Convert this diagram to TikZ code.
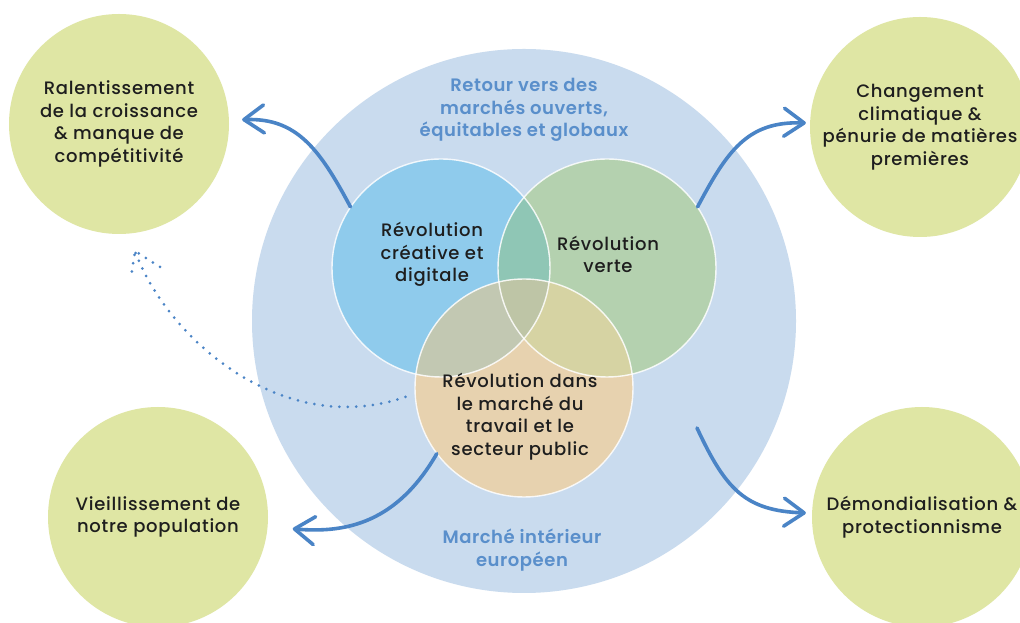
\documentclass[tikz,border=0pt]{standalone}
\usepackage{fontspec}
\setmainfont{Poppins Medium}[LetterSpace=4]
\newfontfamily\semibf{Poppins SemiBold}[LetterSpace=3]
\usetikzlibrary{arrows.meta}
\definecolor{bigc}{HTML}{C9DBEE}
\definecolor{vblue}{HTML}{8FCBEC}
\definecolor{vgreen}{HTML}{B4D1AF}
\definecolor{vorange}{HTML}{E7D2AF}
\definecolor{vbg}{HTML}{8FC6B5}
\definecolor{vbo}{HTML}{C2C8B2}
\definecolor{vgo}{HTML}{D6D3A3}
\definecolor{vbgo}{HTML}{BEC5A6}
\definecolor{outg}{HTML}{DFE6A4}
\definecolor{arrc}{HTML}{4A84C6}
\definecolor{bluetxt}{HTML}{5A8FCB}
\definecolor{darktxt}{HTML}{1E1E1E}
\begin{document}
\begin{tikzpicture}[x=1pt,y=1pt,
  txtfont/.style={font=\fontsize{18pt}{22.5pt}\selectfont},
  outcirc/.style={circle,fill=outg,minimum size=220pt,inner sep=0pt,align=center,text=darktxt,txtfont},
  vennc/.style={circle,minimum size=218pt,inner sep=0pt},
  lbl/.style={align=center,text=darktxt,txtfont,inner sep=0pt},
  bluelbl/.style={align=center,text=bluetxt,font=\semibf\fontsize{18pt}{22.5pt}\selectfont,inner sep=0pt},
  vline/.style={draw=white,line width=1.4pt,draw opacity=0.85},
  arr/.style={draw=arrc,line width=3.6pt,line cap=round,-{Straight Barb[length=20pt,width=28pt,round]}},
  dotarr/.style={draw=arrc,line width=3pt,line cap=round,dash pattern=on 0pt off 8.4pt}
]
\clip (0,0) rectangle (1020,623);
\fill[white] (0,0) rectangle (1020,623);
% big circle
\node[circle,fill=bigc,minimum size=544pt,inner sep=0pt] (big) at (524,302) {};
% Venn
\coordinate (cb) at (441,355);
\coordinate (cg) at (607,355);
\coordinate (co) at (524,235);
\fill[vblue] (cb) circle (109);
\fill[vgreen] (cg) circle (109);
\fill[vorange] (co) circle (109);
\begin{scope}
  \clip (cb) circle (109);
  \fill[vbg] (cg) circle (109);
  \fill[vbo] (co) circle (109);
\end{scope}
\begin{scope}
  \clip (cg) circle (109);
  \fill[vgo] (co) circle (109);
\end{scope}
\begin{scope}
  \clip (cb) circle (109);
  \clip (cg) circle (109);
  \fill[vbgo] (co) circle (109);
\end{scope}
\draw[vline] (cb) circle (109);
\draw[vline] (cg) circle (109);
\draw[vline] (co) circle (109);
\node[vennc] (blue) at (cb) {};
\node[vennc] (green) at (cg) {};
\node[vennc] (orange) at (co) {};
% outer circles
\node[outcirc] (tl) at (119,499) {Ralentissement\\de la croissance\\\& manque de\\compétitivité};
\node[outcirc] (tr) at (920,496) {Changement\\climatique \&\\pénurie de matières\\premières};
\node[outcirc] (bl) at (158,106) {Vieillissement de\\notre population};
\node[outcirc] (br) at (922,106) {Démondialisation \&\\protectionnisme};
% labels
\node[bluelbl] (ttop) at (524,513) {Retour vers des\\marchés ouverts,\\équitables et globaux};
\node[bluelbl] (tbot) at (522,73) {Marché intérieur\\européen};
\node[lbl] (tblue) at (432,368.5) {Révolution\\créative et\\digitale};
\node[lbl] (tgreen) at (608,368.5) {Révolution\\verte};
\node[lbl] (torange) at (520,206.5) {Révolution dans\\le marché du\\travail et le\\secteur public};
% arrows
\coordinate (a4s) at (697,195);
\draw[arr,shorten >=13pt] (blue.146) to[out=118,in=2,looseness=1.15] (tl);
\draw[arr,shorten >=4pt] (green.34) to[out=62,in=178,looseness=1.15] (tr);
\draw[arr,shorten >=25pt] (orange.217) to[out=240,in=-5,looseness=1.1] (bl);
\draw[arr,shorten >=6pt] (a4s) to[out=-65,in=178,looseness=1.2] (br);
% dotted arrow
\coordinate (dtip) at (135,372);
\draw[dotarr,shorten <=10pt] (orange.183) .. controls (280,183) and (165,288) .. (dtip);
\draw[dotarr] (dtip) ++(25,-16) -- (dtip) -- ++(-4,-26);
\end{tikzpicture}
\end{document}
